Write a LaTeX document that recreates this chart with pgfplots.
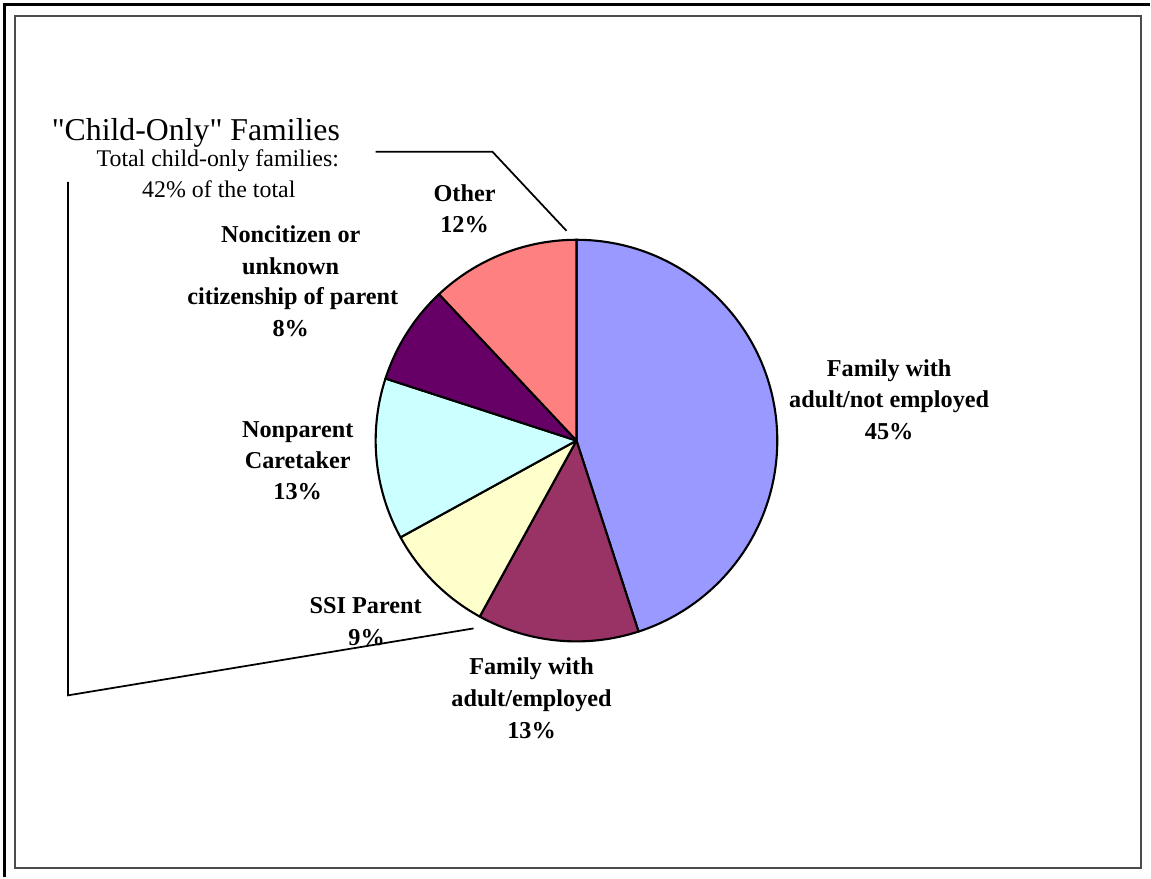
\documentclass[border=0pt]{standalone}
\usepackage{pgfplots}
\pgfplotsset{compat=1.18}
\usepackage{pgfplotstable}
\usepackage{fontspec}
\setmainfont{Liberation Serif}
\newfontfamily\titlefont{Liberation Serif}

\definecolor{notemp}{HTML}{9999FF}
\definecolor{emp}{HTML}{993366}
\definecolor{ssi}{HTML}{FFFFCC}
\definecolor{nonpar}{HTML}{CCFFFF}
\definecolor{noncit}{HTML}{660066}
\definecolor{other}{HTML}{FF8080}

% shares in percent, clockwise from 12 o'clock
\pgfplotstableread{
share colour
45 notemp
13 emp
9 ssi
13 nonpar
8 noncit
12 other
}\slices

\newcommand\lab{\fontsize{6.9pt}{8pt}\selectfont\bfseries}
\newcommand\sub{\fontsize{6.8pt}{8pt}\selectfont}

\begin{document}
\begin{tikzpicture}
\begin{axis}[
    width=11.51cm, height=8.78cm,
    scale only axis,
    xmin=0, xmax=1151,
    ymin=0, ymax=878,
    y dir=reverse,
    axis lines=none,
    clip=false,
]
\addplot[draw=none] coordinates {(577,441)};
\path (axis cs:0,0) rectangle (axis cs:1151,878);

% frames
\draw[line width=0.6pt] (axis cs:4.5,878) -- (axis cs:4.5,4.5) -- (axis cs:1151,4.5);
\draw[black!70, line width=0.45pt] (axis cs:15,16) rectangle (axis cs:1142,869);

% pie slices
\pgfmathsetmacro\cum{0}
\pgfplotsforeachungrouped \i in {0,...,5} {
    \pgfplotstablegetelem{\i}{share}\of\slices
    \let\v\pgfplotsretval
    \pgfplotstablegetelem{\i}{colour}\of\slices
    \let\c\pgfplotsretval
    \pgfmathsetmacro\a{90-3.6*\cum}
    \pgfmathsetmacro\b{90-3.6*(\cum+\v)}
    \edef\temp{\noexpand\filldraw[fill=\c, draw=black, line width=0.6pt, line join=round]
        (axis cs:577,441) -- ++(\a:2.01cm) arc[start angle=\a, end angle=\b, radius=2.01cm] -- cycle;}
    \temp
    \pgfmathsetmacro\cum{\cum+\v}
}

% callout lines
\draw[line width=0.5pt] (axis cs:376,152) -- (axis cs:493,152) -- (axis cs:567,231);
\draw[line width=0.5pt] (axis cs:68,182) -- (axis cs:68,696) -- (axis cs:474,629);

% title block
\node[anchor=base, font=\titlefont\fontsize{9.05pt}{11pt}\selectfont] at (axis cs:196,141) {\textquotedbl Child-Only\textquotedbl\ Families};
\node[anchor=base, font=\sub] at (axis cs:218,167) {Total child-only families:};
\node[anchor=base, font=\sub] at (axis cs:219,198) {42\% of the total};

% slice labels
\node[anchor=base, font=\lab] at (axis cs:890,377) {Family with};
\node[anchor=base, font=\lab] at (axis cs:890,408) {adult/not employed};
\node[anchor=base, font=\lab] at (axis cs:890,440) {45\%};

\node[anchor=base, font=\lab] at (axis cs:532,675) {Family with};
\node[anchor=base, font=\lab] at (axis cs:532,707) {adult/employed};
\node[anchor=base, font=\lab] at (axis cs:532,739) {13\%};

\node[anchor=base, font=\lab] at (axis cs:366,614) {SSI Parent};
\node[anchor=base, font=\lab] at (axis cs:367,646) {9\%};

\node[anchor=base, font=\lab] at (axis cs:298,438) {Nonparent};
\node[anchor=base, font=\lab] at (axis cs:298,469) {Caretaker};
\node[anchor=base, font=\lab] at (axis cs:298,500) {13\%};

\node[anchor=base, font=\lab] at (axis cs:291,243) {Noncitizen or};
\node[anchor=base, font=\lab] at (axis cs:291,275) {unknown};
\node[anchor=base, font=\lab] at (axis cs:293,305) {citizenship of parent};
\node[anchor=base, font=\lab] at (axis cs:291,337) {8\%};

\node[anchor=base, font=\lab] at (axis cs:465,202) {Other};
\node[anchor=base, font=\lab] at (axis cs:465,233) {12\%};
\end{axis}
\end{tikzpicture}
\end{document}
